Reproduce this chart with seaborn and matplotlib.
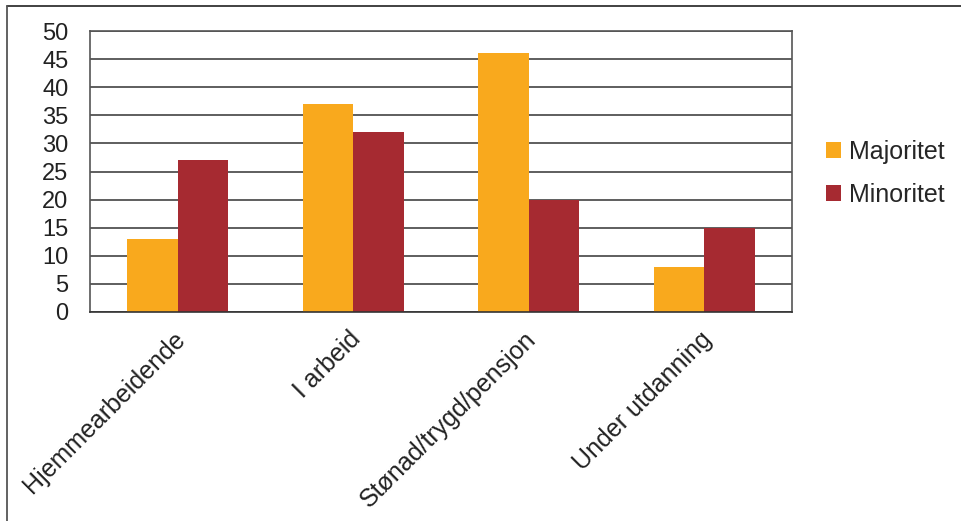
import matplotlib
matplotlib.use("Agg")
import matplotlib.pyplot as plt
from matplotlib.lines import Line2D
import matplotlib.transforms as mtransforms
import seaborn as sns
import pandas as pd
import numpy as np

categories = ["Hjemmearbeidende", "I arbeid", "Stønad/trygd/pensjon", "Under utdanning"]
majoritet = [13, 37, 46, 8]
minoritet = [27, 32, 20, 15]
series_names = ["Majoritet", "Minoritet"]
yticks = [0, 5, 10, 15, 20, 25, 30, 35, 40, 45, 50]

df = pd.DataFrame({
    "Kategori": categories * 2,
    "Verdi": majoritet + minoritet,
    "Gruppe": [series_names[0]] * len(categories) + [series_names[1]] * len(categories),
})

sns.set_style("white")
plt.rcParams['font.family'] = ['Liberation Sans', 'DejaVu Sans']

W, H = 962, 521
fig = plt.figure(figsize=(W / 100, H / 100), dpi=100)
ax = fig.add_axes([90 / W, 1 - 312 / H, (792 - 90) / W, (312 - 31) / H])

palette = {"Majoritet": "#F9A91D", "Minoritet": "#A62A31"}
sns.barplot(data=df, x="Kategori", y="Verdi", hue="Gruppe", palette=palette,
            width=0.575, ax=ax, saturation=1, errorbar=None, zorder=3,
            linewidth=0)

ax.set_ylim(0, 50)
ax.set_xlim(-0.5, len(categories) - 0.5)
ax.set_yticks(yticks)
ax.set_yticklabels([str(t) for t in yticks], fontsize=17, color="#222222")
ax.set_xticks(range(len(categories)))
ax.set_xticklabels(categories, rotation=45, ha="right", rotation_mode="anchor",
                   fontsize=18, color="#222222")
ax.tick_params(axis="x", which="major", length=0, pad=11)
offset = mtransforms.ScaledTranslation(-5 / 100, 0, fig.dpi_scale_trans)
for lbl in ax.get_xticklabels():
    lbl.set_transform(lbl.get_transform() + offset)
ax.set_xticks(np.arange(-0.5, len(categories), 1.0), minor=True)
ax.tick_params(axis="x", which="minor", length=6, width=1.2, color="#444444", direction="out")
ax.tick_params(axis="y", length=6.5, width=1.2, color="#444444", direction="out", pad=9)
ax.set_xlabel("")
ax.set_ylabel("")

ax.yaxis.grid(True, color="#333333", linewidth=1.1, zorder=0)
ax.set_axisbelow(True)
for s in ["left", "right", "top", "bottom"]:
    ax.spines[s].set_visible(True)
    ax.spines[s].set_color("#555555")
    ax.spines[s].set_linewidth(1.2)
ax.spines["bottom"].set_color("#333333")
ax.spines["bottom"].set_zorder(5)

handles, labels = ax.get_legend_handles_labels()
ax.legend(handles, labels, loc="center left", bbox_to_anchor=(826 / W, 1 - 173 / H),
          bbox_transform=fig.transFigure, frameon=False, fontsize=18,
          handlelength=0.6, handleheight=0.6, handletextpad=0.32,
          labelspacing=0.76, borderpad=0, borderaxespad=0)

fig.add_artist(Line2D([7 / W, 1], [1 - 6 / H, 1 - 6 / H], color="#333333", linewidth=1.3,
                      transform=fig.transFigure))
fig.add_artist(Line2D([7 / W, 7 / W], [0, 1 - 6 / H], color="#555555", linewidth=1.3,
                      transform=fig.transFigure))

fig.savefig("out.png", dpi=100)
